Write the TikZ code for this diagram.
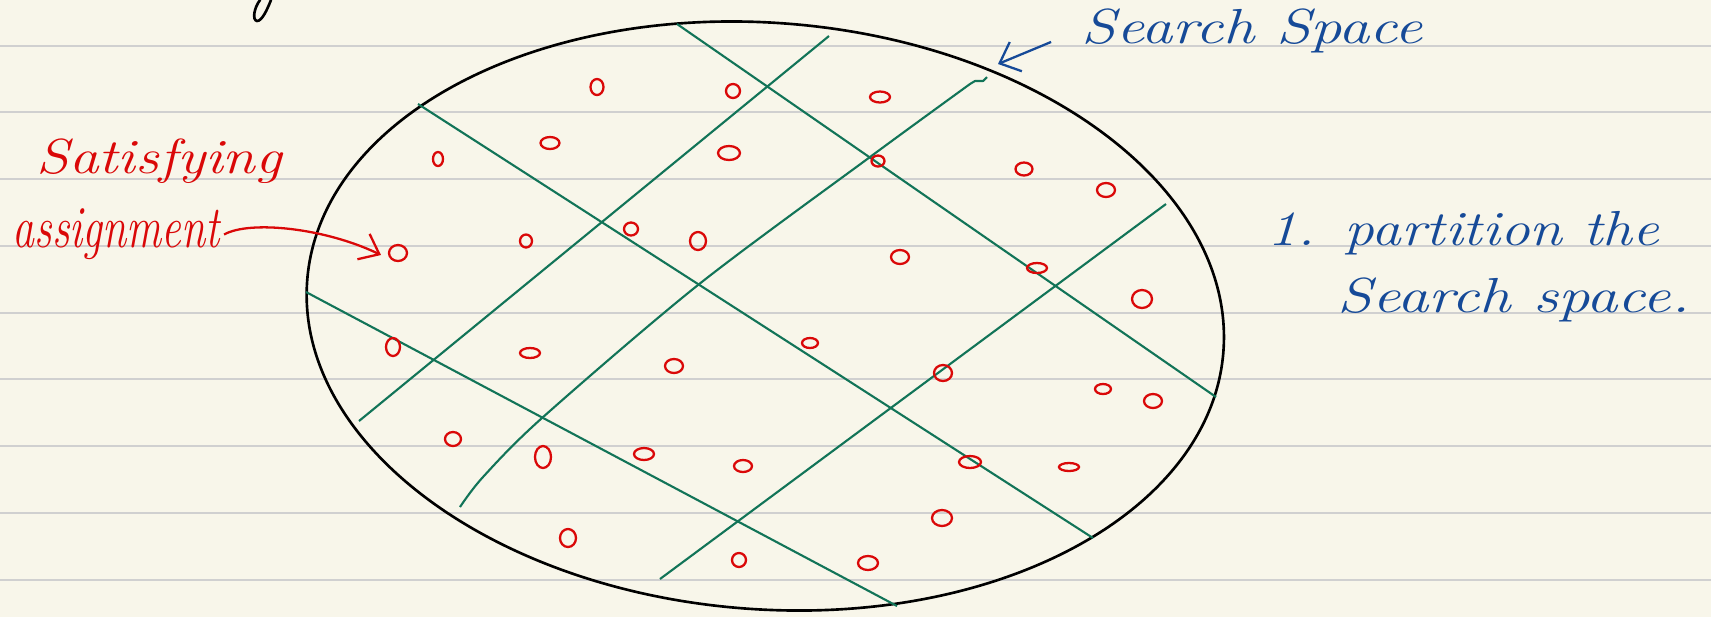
\documentclass[tikz,border=0pt]{standalone}
\usepackage{graphicx}
\usepackage{tikz}
\usetikzlibrary{arrows.meta}

\definecolor{paper}{RGB}{248,246,234}
\definecolor{ruleline}{RGB}{208,208,208}
\definecolor{cutgreen}{RGB}{18,116,88}
\definecolor{inkred}{RGB}{218,8,8}
\definecolor{inkblue}{RGB}{22,74,152}
\newcommand{\inkw}[2]{\resizebox{#1}{\height}{#2}}

\begin{document}
\begin{tikzpicture}[x=0.01cm, y=-0.01cm,
    redink/.style={inkred, font=\itshape\fontsize{14}{16}\selectfont, inner sep=0pt, anchor=base west},
    blueink/.style={inkblue, font=\itshape\fontsize{14}{16}\selectfont, inner sep=0pt, anchor=base west},
    cut/.style={cutgreen, line width=0.6pt},
    soln/.style={inkred, line width=0.65pt}]
% ruled paper
\fill[paper] (0,0) rectangle (1711,617);
\useasboundingbox (0,0) rectangle (1711,617);
\foreach \k in {0,...,8}
  \draw[ruleline, line width=0.55pt] (0,{45.7+66.75*\k}) -- (1711,{45.7+66.75*\k});
% stray stroke from the line above
\draw[line width=0.75pt, line cap=round] (260,0) .. controls (254,8) and (252,20) .. (257,21) .. controls (262,21) and (267,10) .. (271,0);
% search space
\draw[line width=0.75pt, rotate around={-4.5:(765.3,316)}] (765.3,316) ellipse [x radius=459.5, y radius=293.2];
% partition lines
\draw[cut] (677,24) -- (1216,397);
\draw[cut] (418,104) -- (1093,538);
\draw[cut] (306,292) -- (897,606);
\draw[cut] (829,36) -- (359,421);
\draw[cut, line join=round] plot[smooth, tension=0.5] coordinates {(460,507) (483,477) (542,418) (698,285) (870,157) (970,84)} -- (975,81) -- (983,81) -- (987,77);
\draw[cut] (660,579) -- (1166,204);
% assignments
\foreach \x/\y/\rx/\ry in {597/87/6.5/8, 733/91/7/7, 550/143/9.5/6, 438/159/5/7, 729/153/11/7,
    398/253/9/8, 526/241/6/6.5, 631/229/7/6.5, 698/241/8/9, 880/97/10/5.5, 878/161/6.5/5.5,
    1024/169/8.5/6.5, 1106/190/9/7, 900/257/9/7, 1037/268/10/5, 1142/299/10/9, 393/347/7/9,
    530/353/10/5, 674/366/9/7, 453/439/8/7, 543/457/8/11, 644/454/10/6, 743/466/9/6,
    568/538/8/9, 739/560/7/7, 810/343/8/5, 943/373/9/8, 1103/389/8/5, 1153/401/9/7,
    970/462/11/6, 1069/467/10/4, 942/518/10/8, 868/563/10/7}
  \draw[soln] (\x,\y) ellipse [x radius=\rx, y radius=\ry];
% labels
\node[redink] (satis) at (36,173) {\inkw{2.45cm}{Satisfying}};
\node[redink, font=\itshape\fontsize{17}{19}\selectfont] (assign) at (12,247) {\inkw{2.07cm}{assignment}};
\coordinate (tip) at (381,255);
\draw[inkred, line width=0.65pt, -{Straight Barb[length=5pt,width=8pt]}] ([xshift=1pt,yshift=1.4pt]assign.mid east) .. controls (250,220) and (325,228) .. (tip);
\node[blueink] (search) at (1081,43) {\inkw{3.41cm}{Search Space}};
\coordinate (edge) at (998,64);
\draw[inkblue, line width=0.65pt, -{Straight Barb[length=5pt,width=9pt]}] ([xshift=-8.5pt,yshift=0.3pt]search.base west) -- (edge);
\node[blueink] (todo1) at (1267,245) {\inkw{3.91cm}{1.\enspace partition the}};
\node[blueink] (todo2) at (1337,312) {\inkw{3.52cm}{Search space.}};
\end{tikzpicture}
\end{document}
